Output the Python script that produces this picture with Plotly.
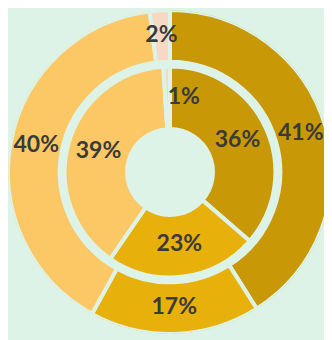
import plotly.graph_objects as go

# Data
categories = ["A", "B", "C", "D"]
outer_values = [41, 17, 40, 2]
inner_values = [36, 23, 39, 1]
colors = ["#C89806", "#E8B00A", "#FCC866", "#F7D9C3"]
outer_labels = ["41%", "17%", "40%", "2%"]
inner_labels = ["36%", "23%", "39%", "1%"]

BG = "#DDF3E7"
R_OUT = 166.0
R_OUT_IN = 113.0
R_IN = 108.0
R_HOLE = 44.0

FIG_W = 324
FIG_H = 332


def ring(values):
    total = float(sum(values))
    widths = [v / total * 360.0 for v in values]
    mids = []
    acc = 0.0
    for w in widths:
        mids.append(acc + w / 2.0)
        acc += w
    return widths, mids


fig = go.Figure()

ow, om = ring(outer_values)
iw, im = ring(inner_values)

fig.add_trace(go.Barpolar(
    theta=om, width=ow, r=[R_OUT - R_OUT_IN] * len(ow), base=R_OUT_IN,
    marker=dict(color=colors, line=dict(color=BG, width=4)),
    hoverinfo="skip", showlegend=False,
))
fig.add_trace(go.Barpolar(
    theta=im, width=iw, r=[R_IN - R_HOLE] * len(iw), base=R_HOLE,
    marker=dict(color=colors, line=dict(color=BG, width=4)),
    hoverinfo="skip", showlegend=False,
))

font = dict(family="Lato, 'Open Sans', sans-serif", size=23, color="#3A3A3A", weight="bold")
fig.add_trace(go.Scatterpolar(
    theta=om, r=[(R_OUT + R_OUT_IN) / 2.0] * len(om), text=outer_labels,
    mode="text", textfont=font,
    textposition=["middle center", "middle center", "middle center", "middle center"],
    hoverinfo="skip", showlegend=False, cliponaxis=False,
))
fig.add_trace(go.Scatterpolar(
    theta=im, r=[(R_IN + R_HOLE) / 2.0] * len(im), text=inner_labels,
    mode="text", textfont=font,
    textposition=["middle center", "middle center", "middle center", "middle right"],
    hoverinfo="skip", showlegend=False, cliponaxis=False,
))

fig.update_layout(
    width=FIG_W,
    height=FIG_H,
    paper_bgcolor=BG,
    plot_bgcolor=BG,
    margin=dict(l=0, r=0, t=0, b=0),
    polar=dict(
        bgcolor=BG,
        domain=dict(x=[0, 1], y=[6 / FIG_H, 330 / FIG_H]),
        radialaxis=dict(range=[0, R_OUT], visible=False),
        angularaxis=dict(visible=False, rotation=90, direction="clockwise"),
        bargap=0,
    ),
)

fig.write_html("out.html")
